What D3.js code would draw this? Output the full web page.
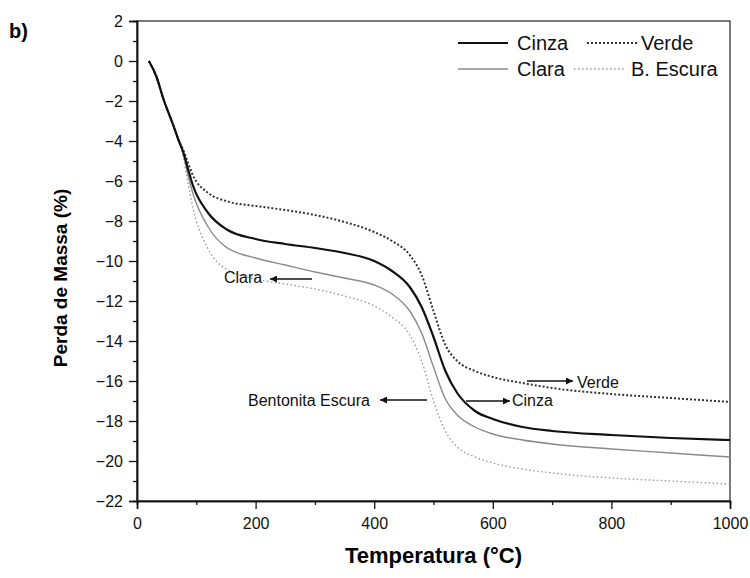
<!DOCTYPE html>
<html>
<head>
<meta charset="utf-8">
<script src="https://cdn.jsdelivr.net/npm/d3@7"></script>
<style>
  body { margin: 0; background: #fff; }
  svg { font-family: "Liberation Sans", Arial, sans-serif; }
</style>
</head>
<body>
<svg width="750" height="578"></svg>
<script>
// temperatura (°C) em que cada curva foi lida
var temps  = [20, 33, 44, 61, 70, 78, 86, 94, 120, 150, 200, 250, 300, 350, 400, 430, 460, 480, 500, 520, 540, 570, 600, 650, 700, 800, 900, 1000];
var cinza  = [0, -0.8, -1.85, -3.2, -3.95, -4.55, -5.4, -6.2, -7.6, -8.4, -8.9, -9.15, -9.35, -9.6, -10.0, -10.5, -11.3, -12.3, -13.8, -15.5, -16.6, -17.5, -17.9, -18.3, -18.5, -18.7, -18.85, -18.95];
var verde  = [0, -0.8, -1.85, -3.2, -3.95, -4.45, -5.1, -5.7, -6.6, -7.0, -7.25, -7.45, -7.7, -8.05, -8.55, -9.0, -9.7, -10.7, -12.5, -14.2, -15.0, -15.5, -15.8, -16.1, -16.35, -16.65, -16.85, -17.05];
var clara  = [0, -0.8, -1.85, -3.2, -3.95, -4.65, -5.7, -6.6, -8.3, -9.3, -9.85, -10.2, -10.55, -10.85, -11.2, -11.65, -12.5, -13.6, -15.3, -16.9, -17.7, -18.3, -18.65, -18.95, -19.15, -19.4, -19.6, -19.8];
var escura = [0, -0.8, -1.85, -3.2, -3.95, -4.8, -6.1, -7.3, -9.4, -10.4, -10.9, -11.15, -11.4, -11.75, -12.25, -12.8, -13.7, -15.0, -17.0, -18.5, -19.3, -19.8, -20.1, -20.4, -20.6, -20.85, -21.0, -21.15];

var xTicks = [0, 200, 400, 600, 800, 1000];
var xMinor = [100, 300, 500, 700, 900];
var yTicks = [2, 0, -2, -4, -6, -8, -10, -12, -14, -16, -18, -20, -22];
var yMinor = [1, -1, -3, -5, -7, -9, -11, -13, -15, -17, -19, -21];

var svg = d3.select("svg"),
    margin = {top: 21, right: 20, bottom: 77, left: 137},
    width = +svg.attr("width") - margin.left - margin.right,
    height = +svg.attr("height") - margin.top - margin.bottom,
    g = svg.append("g").attr("transform", "translate(" + margin.left + "," + margin.top + ")");

var x = d3.scaleLinear().domain([0, 1000]).range([0, width]);
var y = d3.scaleLinear().domain([-22, 2]).range([height, 0]);

// moldura
g.append("rect")
   .attr("width", width).attr("height", height)
   .attr("fill", "none").attr("stroke", "#222").attr("stroke-width", 1.2);

g.append("g")
   .attr("transform", "translate(0," + height + ")")
   .call(d3.axisBottom(x).tickValues(xTicks).tickSize(8).tickPadding(9).tickFormat(d3.format("d")));
g.append("g")
   .attr("transform", "translate(0," + height + ")")
   .call(d3.axisBottom(x).tickValues(xMinor).tickSize(4).tickFormat(""));

g.append("g")
   .call(d3.axisLeft(y).tickValues(yTicks).tickSize(8).tickPadding(6).tickFormat(d3.format("d")));
g.append("g")
   .call(d3.axisLeft(y).tickValues(yMinor).tickSize(4).tickFormat(""));

g.selectAll(".domain").attr("stroke", "#111").attr("stroke-width", 1.5);
g.selectAll(".tick line").attr("stroke", "#111").attr("stroke-width", 1.3);
g.selectAll(".tick text").attr("fill", "#111").style("font-size", "16px");

var line = d3.line()
   .curve(d3.curveMonotoneX)
   .x(function(d) { return x(d[0]); })
   .y(function(d) { return y(d[1]); });

var series = [
  {name: "B. Escura", vals: escura, color: "#9a9a9a", w: 1.4, dash: "1.5,2.5"},
  {name: "Clara",     vals: clara,  color: "#8a8a8a", w: 1.4, dash: null},
  {name: "Verde",     vals: verde,  color: "#333",    w: 2,   dash: "2,2"},
  {name: "Cinza",     vals: cinza,  color: "#111",    w: 2.2, dash: null}
];

series.forEach(function(s) {
  g.append("path")
     .datum(temps.map(function(t, i) { return [t, s.vals[i]]; }))
     .attr("fill", "none")
     .attr("stroke", s.color)
     .attr("stroke-width", s.w)
     .attr("stroke-dasharray", s.dash)
     .attr("stroke-linejoin", "round")
     .attr("d", line);
});

// legenda
var legend = [
  {name: "Cinza",     s: series[3], x1: 458, x2: 508, tx: 517, y: 43},
  {name: "Verde",     s: series[2], x1: 587, x2: 637, tx: 641, y: 43},
  {name: "Clara",     s: series[1], x1: 458, x2: 508, tx: 517, y: 69},
  {name: "B. Escura", s: series[0], x1: 574, x2: 626, tx: 631, y: 69}
];
legend.forEach(function(l) {
  svg.append("line")
     .attr("x1", l.x1).attr("x2", l.x2).attr("y1", l.y).attr("y2", l.y)
     .attr("stroke", l.s.color).attr("stroke-width", l.s.w)
     .attr("stroke-dasharray", l.s.dash);
  svg.append("text")
     .attr("x", l.tx).attr("y", l.y + 7)
     .style("font-size", "20px").attr("fill", "#111")
     .text(l.name);
});

// anotações com setas
svg.append("defs").append("marker")
   .attr("id", "arrow").attr("viewBox", "0 0 10 10")
   .attr("refX", 10).attr("refY", 5)
   .attr("markerWidth", 11).attr("markerHeight", 7)
   .attr("markerUnits", "userSpaceOnUse")
   .attr("orient", "auto")
   .append("path").attr("d", "M0,0L10,5L0,10Z").attr("fill", "#111");

var notes = [
  {text: "Clara",            tx: 224, ty: 283, a1: 312, a2: 270, ay: 279},
  {text: "Bentonita Escura", tx: 248, ty: 406, a1: 427, a2: 380, ay: 400},
  {text: "Cinza",            tx: 512, ty: 406, a1: 466, a2: 510, ay: 401},
  {text: "Verde",            tx: 577, ty: 388, a1: 527, a2: 573, ay: 381}
];
notes.forEach(function(n) {
  svg.append("line")
     .attr("x1", n.a1).attr("x2", n.a2).attr("y1", n.ay).attr("y2", n.ay)
     .attr("stroke", "#111").attr("stroke-width", 1.3)
     .attr("marker-end", "url(#arrow)");
  svg.append("text")
     .attr("x", n.tx).attr("y", n.ty)
     .style("font-size", "16px").attr("fill", "#111")
     .text(n.text);
});

// títulos
svg.append("text")
   .attr("x", margin.left + width / 2).attr("y", 563)
   .attr("text-anchor", "middle")
   .style("font-size", "22px").style("font-weight", "bold")
   .text("Temperatura (°C)");

svg.append("text")
   .attr("transform", "translate(67,278) rotate(-90)")
   .attr("text-anchor", "middle")
   .style("font-size", "19px").style("font-weight", "bold")
   .text("Perda de Massa (%)");

svg.append("text")
   .attr("x", 9).attr("y", 38)
   .style("font-size", "20px").style("font-weight", "bold")
   .text("b)");
</script>
</body>
</html>
